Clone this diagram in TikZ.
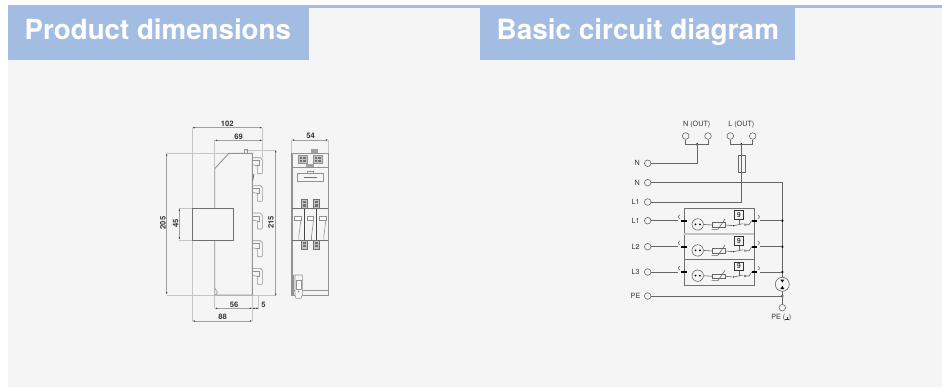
\documentclass[tikz,border=0pt]{standalone}
\usepackage{fontspec}
\setmainfont{TeX Gyre Heros}
\usetikzlibrary{arrows.meta}
\definecolor{panel}{HTML}{F5F5F5}
\definecolor{tab}{HTML}{A3BDE2}
\definecolor{ink}{HTML}{333333}
\definecolor{wire}{HTML}{666666}
\definecolor{body}{HTML}{929292}
\definecolor{ext}{HTML}{C4C4C4}
\definecolor{dimgray}{HTML}{A0A0A0}
\definecolor{boxedge}{HTML}{707070}
\newcommand{\gndmark}{\raisebox{0pt}{\rule{3.6bp}{.35bp}\kern-1.98bp\rule[-1bp]{.35bp}{3.4bp}\kern1.6bp}}
\tikzset{
  x=1bp,y=-1bp,
  title/.style={anchor=base west,inner sep=0,text=white,font=\fontsize{27.7bp}{30bp}\selectfont\bfseries},
  dimtext/.style={inner sep=0,text=ink,font=\fontsize{7.6bp}{8bp}\selectfont\bfseries},
  extline/.style={draw=ext,line width=.6bp},
  dimline/.style={draw=dimgray,line width=.5bp,{Latex[length=2.4bp,width=1.6bp,color=ink]}-{Latex[length=2.4bp,width=1.6bp,color=ink]}},
  outline/.style={draw=body,line width=.9bp},
  heavy/.style={draw=body,line width=1.3bp},
  thin part/.style={draw=body,line width=.6bp},
  dark part/.style={draw=boxedge,line width=.8bp},
  terminal/.style={circle,draw=wire,line width=.6bp,fill=panel,minimum size=6.6bp,inner sep=0},
  junction/.style={circle,fill=black,minimum size=2.6bp,inner sep=0},
  circuit/.style={draw=wire,line width=.6bp},
  clabel/.style={inner sep=0,text=ink,font=\fontsize{7.2bp}{8bp}\selectfont},
  bar/.style={draw=black,line width=1.8bp},
  tube/.style={circle,draw=wire,line width=.6bp,fill=panel,inner sep=0},
}
\begin{document}
\begin{tikzpicture}
\useasboundingbox (0,0) rectangle (942,387);
\fill[white] (0,0) rectangle (942,387);
\fill[panel] (8,5) rectangle (942,386.5);
\fill[tab] (8,5) rectangle (942,8);
\fill[tab] (8,5) rectangle (309,60);
\fill[tab] (480,5) rectangle (795,60);
\node[title] (t1) at (24.5,39) {Product dimensions};
\node[title,font=\fontsize{27.9bp}{30bp}\selectfont\bfseries] (t2) at (496.5,39) {Basic circuit diagram};

% ---- side view: extension lines
\draw[extline] (192.3,127.7) -- (192.3,321);
\draw[extline] (214.7,140.3) -- (214.7,168);
\draw[extline] (214.7,295) -- (214.7,308.3);
\draw[extline] (262.3,127.7) -- (262.3,158);
\draw[extline] (166.7,153.3) -- (228.7,153.3);
\draw[extline] (246,150) -- (275.7,150);
\draw[extline] (166.7,295) -- (275.7,295);
\draw[extline] (179.3,208.3) -- (192.3,208.3);
\draw[extline] (179.3,240) -- (192.3,240);
\draw[extline] (252.3,295) -- (252.3,321);
\draw[extline] (258.7,296) -- (258.7,309);
% ---- side view: dimension lines
\draw[dimline] (192.3,127.7) -- (262.3,127.7);
\draw[dimline] (214.7,140.3) -- (262.3,140.3);
\draw[dimline] (166.7,153.3) -- (166.7,294.5);
\draw[dimline] (179.3,208.3) -- (179.3,239.7);
\draw[dimline] (275.7,150) -- (275.7,296);
\draw[dimline] (214.7,308.3) -- (252.3,308.3);
\draw[dimline] (252.3,308.3) -- (258.7,308.3);
\draw[dimline] (192.3,321) -- (252.3,321);
\node[dimtext] (d102) at (227.3,123.7) {102};
\node[dimtext] (d69) at (238.7,137) {69};
\node[dimtext,rotate=90] (d205) at (163,223) {205};
\node[dimtext,rotate=90] (d45) at (175.7,223.5) {45};
\node[dimtext,rotate=90] (d215) at (271,222.5) {215};
\node[dimtext] (d56) at (234,304.5) {56};
\node[dimtext] (d5) at (263.5,304.5) {5};
\node[dimtext] (d88) at (222.7,316.7) {88};
% ---- side view: body
\draw[outline] (214.7,208.3) -- (214.7,168.7) -- (228.7,153.3) -- (252.3,153.3) -- (252.3,295) -- (214.7,295) -- (214.7,240);
\draw[thin part] (244.3,153.3) -- (244.3,149.3) -- (247,149.3) -- (247,153.3);
\draw[thin part] (214.7,288) -- (217.5,292.5) -- (215.5,295);
\draw[dark part,fill=panel] (192.3,208.3) rectangle (233.3,240);
\foreach \h in {157.7,185.4,213,240.7,268.4}{
  \begin{scope}[shift={(252.3,\h)}]
    \draw[thin part,line join=round] (0,0) -- (8,0) -- (10,2) -- (10,15) -- (9.4,16) -- (5.6,16) -- (5,15) -- (5,8) -- (0,7);
    \draw[thin part] (0,3) -- (7,3) -- (7,8) -- (5,8);
  \end{scope}
}
\draw[dark part] (254,174) -- (252.6,181);
% ---- front view
\draw[extline] (291.7,140) -- (291.7,153.3);
\draw[extline] (328.3,140) -- (328.3,153.3);
\draw[dimline] (291.7,140) -- (328.3,140);
\node[dimtext] (d54) at (310.5,136) {54};
\draw[outline,line width=.7bp] (291.7,153.3) -- (328.3,153.3) -- (328.3,295) -- (291.7,295) -- cycle;
\draw[heavy] (291.9,153.3) -- (291.9,295);
\draw[heavy] (291.7,167.7) -- (328.3,167.7);
\fill[dimgray] (310.7,149.3) rectangle (317.7,153);
\foreach \xa in {298.3,313.3}{
  \draw[thin part,fill=ext] (\xa,155.3) rectangle +(8.8,8);
  \fill[boxedge] (\xa+1.2,156.8) rectangle +(2.4,2);
  \fill[boxedge] (\xa+5,156.8) rectangle +(2.4,2);
  \fill[boxedge] (\xa+1.2,160) rectangle +(2.4,2);
  \fill[boxedge] (\xa+5,160) rectangle +(2.4,2);
}
\fill[dimgray] (306,163.5) rectangle (314.3,166.7);
\draw[outline,line width=.7bp] (297.3,173.7) rectangle (323.7,181);
\draw[thin part] (307.7,173.7) -- (307.7,171.3) -- (313.3,171.3) -- (313.3,173.7);
\draw[dark part,line width=1bp] (304.3,177.3) -- (316.7,177.3);
% modules
\draw[dark part] (291.7,208.3) -- (328.3,208.3);
\draw[dark part] (291.7,240) -- (328.3,240);
\draw[dark part,draw=ink!90,line width=1bp] (304,208.3) -- (304,240);
\draw[dark part,draw=ink!90,line width=1bp] (316,208.3) -- (316,240);
\foreach \xb in {301,313.3}{
  \foreach \yb in {199.3,240}{
    \draw[dark part,line width=.6bp,fill=ext] (\xb,\yb) rectangle +(6,9);
    \fill[boxedge] (\xb+1.5,\yb+1.5) rectangle +(3,2.4);
    \fill[boxedge] (\xb+1.5,\yb+5) rectangle +(3,2.4);
  }
}
\foreach \xc in {294.3,307,319.3}{
  \draw[thin part,fill=white] (\xc,216.7) rectangle +(6.5,4);
  \draw[thin part] (\xc+6.5,220.7) -- (\xc+4.5,236.5) -- (\xc+4.5,240);
}
% bottom clip
\draw[outline,line width=.6bp] (293.7,290) -- (328.3,290);
\draw[outline,fill=panel,line width=.6bp] (295,275) -- (302.3,275) -- (302.3,295) -- (301,298.3) -- (296,298.3) -- (295,295) -- cycle;
\draw[thin part] (293.7,275) -- (293.7,295);
\draw[thin part,fill=white] (296.5,280) rectangle (300.8,289);
\fill[boxedge] (298.6,291.5) circle (.8bp);

% ---- circuit: terminals
\node[terminal] (ona) at (685.7,136) {};
\node[terminal] (onb) at (708,136) {};
\node[terminal] (ola) at (730.3,136) {};
\node[terminal] (olb) at (752.7,136) {};
\node[clabel] (lon) at (696.7,125) {N (OUT)};
\node[clabel] (lol) at (741.3,125) {L (OUT)};
\node[junction] (jn) at (697,144.3) {};
\node[junction] (jl) at (741.3,144.3) {};
\draw[circuit] (ona) |- (jn.center) -| (onb);
\draw[circuit] (ola) |- (jl.center) -| (olb);
\node[terminal] (tN) at (647.7,163.3) {};
\node[clabel] (lN) at (637.3,163.3) {N};
\node[terminal] (tNb) at (647.7,182.7) {};
\node[clabel] (lNb) at (637.3,182.7) {N};
\node[terminal] (tLa) at (647.7,202) {};
\node[clabel] (lLa) at (635.5,202) {L1};
\node[terminal] (tPE) at (647.7,296) {};
\node[clabel] (lPE) at (635.5,296) {PE};
\node[terminal] (oPE) at (782.3,307.7) {};
\node[clabel] (loPE) at (781.3,317.3) {PE (\gndmark)};
\node[junction] (jPE) at (782.3,296) {};
\coordinate (corner) at (782.3,182.7);
\draw[circuit] (tN) -| (jn.center);
\draw[circuit] (tNb) -- (corner) -- (jPE.center) -- (oPE);
\draw[circuit] (tPE) -- (jPE.center);
\draw[circuit] (tLa) -| (jl.center);
\node[draw=wire,line width=.6bp,minimum width=6.7bp,minimum height=17.3bp,inner sep=0] (fuse) at (741.6,163.6) {};
% surge module box
\draw[draw=boxedge,line width=.7bp] (684.3,208.3) rectangle (754.3,285.3);
\draw[draw=ext,line width=1.2bp] (684.3,234) -- (754.3,234);
\draw[draw=boxedge,line width=.7bp] (684.3,259.3) -- (754.3,259.3);
% protector
\node[tube,minimum size=14bp] (spd) at (782.3,284.3) {};
\fill[black] (780.4,279.6) -- (784.2,279.6) -- (782.3,282.6) -- cycle;
\fill[black] (780.4,289) -- (784.2,289) -- (782.3,286) -- cycle;
% rows
\foreach \r/\yy/\lab in {1/220.7/L1,2/246.7/L2,3/272/L3}{
  \begin{scope}[shift={(0,\yy)}]
    \node[terminal] (tR\r) at (647.7,0) {};
    \node[clabel] (lR\r) at (635.5,0) {\lab};
    \coordinate (inL\r) at (678.2,0);
    \draw[circuit] (tR\r) -- (inL\r);
    \draw[circuit] (680,-2) arc[start angle=100,end angle=260,radius=2];
    \draw[bar] (681,0) -- (687.3,0);
    \draw[bar] (751.7,0) -- (757.3,0);
    \draw[circuit] (757.8,-2) arc[start angle=80,end angle=-80,radius=2];
    \node[junction] (jR\r) at (782.3,0) {};
    \draw[circuit] (760.2,0) -- (jR\r.center);
    \node[tube,minimum size=11.4bp] (gas\r) at (697.7,3.7) {};
    \fill[black] (695.5,3.7) circle (1bp);
    \fill[black] (699.9,3.7) circle (1bp);
    \node[draw=wire,line width=.6bp,minimum width=12.7bp,minimum height=4.8bp,inner sep=0] (var\r) at (718.7,4.3) {};
    \draw[circuit] (711.7,8.6) -- (718,8.6) -- (725,-1.7);
    \draw[circuit] (gas\r.east) -- (var\r.west);
    \coordinate (sw\r) at (733.7,5);
    \draw[circuit] (var\r.east) -- (sw\r);
    \fill[black] (sw\r) circle (.7bp);
    \draw[circuit] (sw\r) -- (743,3);
    \node[circle,draw=wire,line width=.4bp,minimum size=2bp,inner sep=0] (con\r) at (745,4) {};
    \draw[circuit] (con\r) -- (749,4) -- (751.7,0);
    \node[draw=ink,line width=.6bp,fill=panel,minimum size=8.7bp,inner sep=0,font=\fontsize{7bp}{8bp}\selectfont] (sq\r) at (738.8,-5.7) {9};
    \draw[circuit] (sq\r) -- (738.8,3.5);
  \end{scope}
}
\end{tikzpicture}
\end{document}
